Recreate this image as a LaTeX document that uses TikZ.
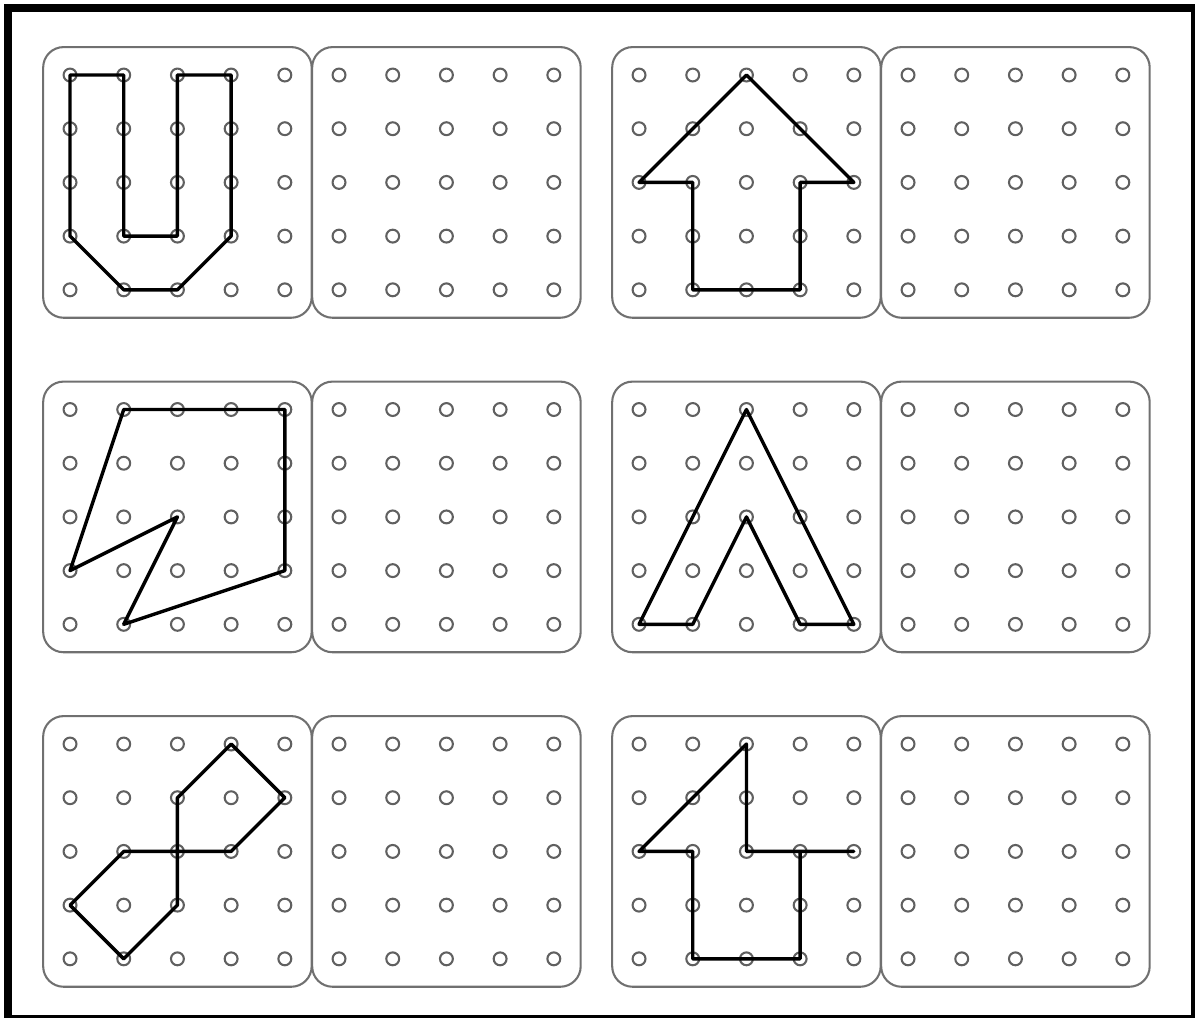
\documentclass[tikz,border=0pt]{standalone}
\usepackage{xcolor}
\definecolor{boardgray}{RGB}{112,112,112}
\definecolor{peggray}{RGB}{96,96,96}
\begin{document}
\begin{tikzpicture}[x=1cm,y=-1cm,
  board/.style={draw=boardgray,line width=1.1pt,rounded corners=0.38cm},
  peg/.style={circle,draw=peggray,line width=1.1pt,inner sep=0pt,minimum size=0.24cm},
  band/.style={draw=black,line width=1.8pt,line join=round}
]
  \useasboundingbox (0,0) rectangle (22.253,18.957);

  % Frame
  \fill (0.075,0.075) rectangle (0.224,18.957);
  \fill (0.075,0.075) rectangle (22.253,0.224);
  \fill (22.179,0.075) rectangle (22.253,18.957);
  \fill (0.075,18.901) rectangle (22.253,18.957);

  % Geoboards with 5x5 pegs
  \foreach \bd/\bx/\by in {U/1.304/1.397, U2/6.313/1.397,
      Arr/11.900/1.397, Arr2/16.909/1.397,
      Zig/1.304/7.626, Zig2/6.313/7.626,
      Chev/11.900/7.626, Chev2/16.909/7.626,
      Bow/1.304/13.855, Bow2/6.313/13.855,
      Hook/11.900/13.855, Hook2/16.909/13.855} {
    \draw[board] (\bx-0.5,\by-0.52) rectangle (\bx+4.5,\by+4.52);
    \foreach \c in {0,...,4}
      \foreach \r in {0,...,4}
        \node[peg] (\bd-\c-\r) at (\bx+\c,\by+\r) {};
  }

  % U shape
  \draw[band] (U-0-0.center) -- (U-1-0.center) -- (U-1-3.center) -- (U-2-3.center)
    -- (U-2-0.center) -- (U-3-0.center) -- (U-3-3.center) -- (U-2-4.center)
    -- (U-1-4.center) -- (U-0-3.center) -- cycle;

  % Arrow
  \draw[band] (Arr-2-0.center) -- (Arr-4-2.center) -- (Arr-3-2.center) -- (Arr-3-4.center)
    -- (Arr-1-4.center) -- (Arr-1-2.center) -- (Arr-0-2.center) -- cycle;

  % Zigzag
  \draw[band] (Zig-1-0.center) -- (Zig-4-0.center) -- (Zig-4-3.center) -- (Zig-1-4.center)
    -- (Zig-2-2.center) -- (Zig-0-3.center) -- cycle;

  % Chevron
  \draw[band] (Chev-2-0.center) -- (Chev-4-4.center) -- (Chev-3-4.center) -- (Chev-2-2.center)
    -- (Chev-1-4.center) -- (Chev-0-4.center) -- cycle;

  % Two pentagons
  \draw[band] (Bow-2-2.center) -- (Bow-2-1.center) -- (Bow-3-0.center) -- (Bow-4-1.center)
    -- (Bow-3-2.center) -- (Bow-1-2.center) -- (Bow-0-3.center) -- (Bow-1-4.center)
    -- (Bow-2-3.center) -- cycle;

  % Hook
  \draw[band] (Hook-0-2.center) -- (Hook-2-0.center) -- (Hook-2-2.center) -- (Hook-4-2.center)
    -- (Hook-3-2.center) -- (Hook-3-4.center) -- (Hook-1-4.center) -- (Hook-1-2.center) -- cycle;
\end{tikzpicture}
\end{document}
